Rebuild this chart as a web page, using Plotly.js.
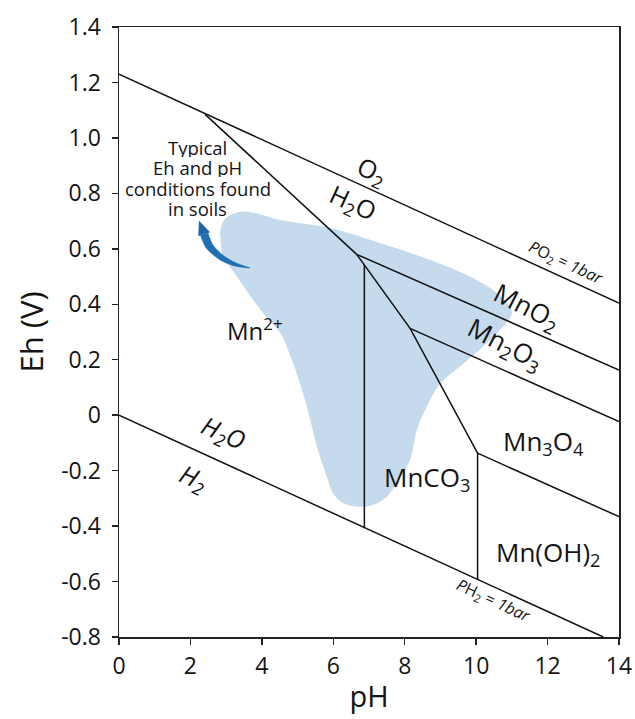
<!DOCTYPE html>
<html>
<head>
<meta charset="utf-8">
<script src="https://cdn.plot.ly/plotly-3.0.1.min.js"></script>
<style>
  html, body { margin: 0; padding: 0; background: #ffffff; }
  #chart { width: 635px; height: 719px; }
</style>
</head>
<body>
<div id="chart"></div>
<script>
// Eh–pH (Pourbaix) diagram for manganese, with the typical soil field.

// Water stability limits
const o2LinePH = [0, 14];
const o2LineEh = [1.23, 0.404];
const h2LinePH = [0, 13.56];
const h2LineEh = [0, -0.80];

// Mn phase boundaries
const mnO2UpperPH = [2.41, 6.655];
const mnO2UpperEh = [1.085, 0.580];
const mn2EdgePH = [6.655, 8.15, 10.04];
const mn2EdgeEh = [0.580, 0.313, -0.137];
const mnO2Mn2O3PH = [6.655, 14];
const mnO2Mn2O3Eh = [0.580, 0.163];
const mn2O3Mn3O4PH = [8.15, 14];
const mn2O3Mn3O4Eh = [0.313, -0.023];
const mn3O4MnOHPH = [10.04, 14];
const mn3O4MnOHEh = [-0.137, -0.366];
const mnCO3LeftPH = [6.87, 6.87];
const mnCO3LeftEh = [0.542, -0.407];
const mnCO3RightPH = [10.04, 10.04];
const mnCO3RightEh = [-0.137, -0.595];

// Outline of Eh/pH conditions typically found in soils
const soilPH = [2.83, 2.94, 3.25, 3.58, 4.51, 5.91, 7.31, 8.71, 9.83, 10.58, 10.95, 11.0, 10.75,
                10.19, 9.63, 8.99, 8.62, 8.34, 8.15, 7.78, 7.50, 7.11, 6.66, 6.27, 5.99, 5.82,
                5.54, 5.26, 4.87, 4.51, 4.14, 3.75, 3.30, 2.88];
const soilEh = [0.657, 0.704, 0.729, 0.734, 0.704, 0.675, 0.621, 0.560, 0.500, 0.441, 0.391, 0.365, 0.319,
                0.247, 0.185, 0.113, 0.031, -0.053, -0.161, -0.244, -0.294, -0.324, -0.330, -0.317, -0.281, -0.222,
                -0.113, 0.031, 0.188, 0.297, 0.351, 0.416, 0.500, 0.572];

// Curved pointer from the soil field to its caption
const pointerBodyPH = [2.28, 2.44, 2.83, 3.25, 3.67, 3.28, 2.94, 2.63, 2.49];
const pointerBodyEh = [0.650, 0.603, 0.560, 0.538, 0.531, 0.549, 0.574, 0.614, 0.657];
const pointerHeadPH = [2.24, 2.54, 2.22];
const pointerHeadEh = [0.700, 0.660, 0.647];

// Axis ticks
const xTickVals = [0, 2, 4, 6, 8, 10, 12, 14];
const yTickVals = [1.4, 1.2, 1.0, 0.8, 0.6, 0.4, 0.2, 0, -0.2, -0.4, -0.6, -0.8];
const yTickText = ['1.4', '1.2', '1.0', '0.8', '0.6', '0.4', '0.2', '0', '-0.2', '-0.4', '-0.6', '-0.8'];

// Field and boundary labels (the soil caption is set line by line)
const labelText = [
  'O<sub>2</sub>', 'H<sub>2</sub>O', 'MnO<sub>2</sub>', 'Mn<sub>2</sub>O<sub>3</sub>',
  '<i>P</i>O<sub>2</sub> = <i>1bar</i>', 'Mn<sub>3</sub>O<sub>4</sub>', 'MnCO<sub>3</sub>',
  'Mn(OH)<sub>2</sub>', '<i>P</i>H<sub>2</sub> = <i>1bar</i>', '<i>H<sub>2</sub>O</i>', '<i>H<sub>2</sub></i>',
  'Mn<sup>2+</sup>', 'Typical', 'Eh and pH', 'conditions found', 'in soils'
];
const labelPH = [7.08, 6.56, 11.42, 10.80, 12.50, 11.88, 8.63, 12.00, 10.48, 2.92, 2.08, 3.81,
                 2.21, 2.21, 2.21, 2.21];
const labelEh = [0.878, 0.765, 0.391, 0.255, 0.550, -0.098, -0.227, -0.498, -0.668, -0.065, -0.227, 0.310,
                 0.965, 0.893, 0.819, 0.747];
const labelAngle = [25, 25, 27, 27, 25, 0, 0, 0, 25, 24, 24, 0, 0, 0, 0, 0];
const labelSize = [25, 25, 26, 26, 16, 26, 26, 26, 16, 25, 25, 24, 18.5, 18.5, 18.5, 18.5];
const captionLines = 4;

const inkColor = '#141414';
const fontFamily = '"Open Sans", "DejaVu Sans", sans-serif';

function boundary(xs, ys) {
  return {
    x: xs, y: ys, type: 'scatter', mode: 'lines',
    line: { color: '#111111', width: 1.5 },
    hoverinfo: 'skip', showlegend: false
  };
}

const traces = [
  {
    x: soilPH, y: soilEh, type: 'scatter', mode: 'lines', fill: 'toself',
    fillcolor: 'rgb(198,218,237)', line: { width: 0, shape: 'spline', smoothing: 1 },
    hoverinfo: 'skip', showlegend: false
  },
  {
    x: pointerBodyPH, y: pointerBodyEh, type: 'scatter', mode: 'lines', fill: 'toself',
    fillcolor: '#1f6fb2', line: { width: 0.5, color: '#1f6fb2', shape: 'spline', smoothing: 0.8 },
    hoverinfo: 'skip', showlegend: false
  },
  {
    x: pointerHeadPH, y: pointerHeadEh, type: 'scatter', mode: 'lines', fill: 'toself',
    fillcolor: '#1b66a6', line: { width: 0.5, color: '#1b66a6' },
    hoverinfo: 'skip', showlegend: false
  },
  boundary(o2LinePH, o2LineEh),
  boundary(h2LinePH, h2LineEh),
  boundary(mnO2UpperPH, mnO2UpperEh),
  boundary(mn2EdgePH, mn2EdgeEh),
  boundary(mnO2Mn2O3PH, mnO2Mn2O3Eh),
  boundary(mn2O3Mn3O4PH, mn2O3Mn3O4Eh),
  boundary(mn3O4MnOHPH, mn3O4MnOHEh),
  boundary(mnCO3LeftPH, mnCO3LeftEh),
  boundary(mnCO3RightPH, mnCO3RightEh)
];

const firstCaption = labelText.length - captionLines;
const annotations = labelText.map((t, i) => {
  const a = {
    x: labelPH[i], y: labelEh[i], xref: 'x', yref: 'y',
    text: t, showarrow: false, textangle: labelAngle[i],
    xanchor: 'center', yanchor: 'middle', borderpad: 0,
    font: { family: fontFamily, size: labelSize[i], color: inkColor }
  };
  // caption lines sit close together, so keep their boxes tight
  if (i >= firstCaption) a.height = 19;
  return a;
});

const axisCommon = {
  showline: true, linecolor: '#222222', linewidth: 1.5, mirror: true,
  ticks: 'outside', ticklen: 6, tickwidth: 1.5, tickcolor: '#222222',
  showgrid: false, zeroline: false,
  tickfont: { family: fontFamily, size: 23, color: inkColor }
};

const layout = {
  width: 635, height: 719,
  margin: { l: 119, r: 16, t: 27, b: 82 },
  paper_bgcolor: '#ffffff', plot_bgcolor: '#ffffff',
  font: { family: fontFamily, color: inkColor },
  xaxis: Object.assign({}, axisCommon, {
    range: [0, 14], tickvals: xTickVals, ticklabelstandoff: 2,
    title: { text: 'pH', font: { family: fontFamily, size: 29, color: inkColor }, standoff: 6 }
  }),
  yaxis: Object.assign({}, axisCommon, {
    range: [-0.8, 1.4], tickvals: yTickVals, ticktext: yTickText, ticklabelstandoff: 6,
    title: { text: 'Eh (V)', font: { family: fontFamily, size: 31, color: inkColor }, standoff: 8 }
  }),
  annotations: annotations,
  showlegend: false
};

Plotly.newPlot('chart', traces, layout, { staticPlot: true, displayModeBar: false });
</script>
</body>
</html>
